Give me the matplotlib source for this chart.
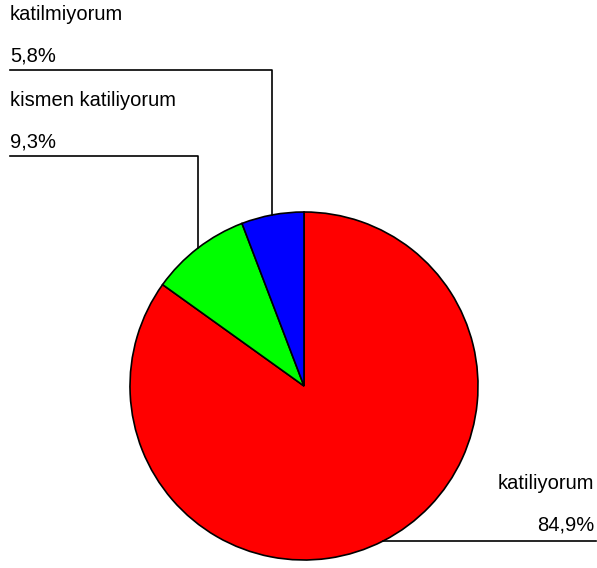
import numpy as np
import matplotlib.pyplot as plt

plt.rcParams['font.family'] = ['Liberation Sans', 'DejaVu Sans']

labels = ['katiliyorum', 'kismen katiliyorum', 'katilmiyorum']
values = [84.9, 9.3, 5.8]
pct_labels = ['84,9%', '9,3%', '5,8%']
colors = ['#ff0000', '#00ff00', '#0000ff']

W, H = 597, 568
fig = plt.figure(figsize=(W / 100, H / 100), dpi=100)
ax = fig.add_axes([0, 0, 1, 1])

cx, cy, r = 304, H - 386, 174
wedges, _ = ax.pie(values, colors=colors, startangle=90, counterclock=False,
                   center=(cx, cy), radius=r,
                   wedgeprops=dict(edgecolor='black', linewidth=1.2))
ax.set_xlim(0, W)
ax.set_ylim(0, H)
ax.set_aspect('equal')
ax.axis('off')

fs = 14.5
# pixel y of the horizontal leader line for the left-hand labels
line_y = {'kismen katiliyorum': 156, 'katilmiyorum': 70}
for w, lab, pct in zip(wedges, labels, pct_labels):
    mid = np.deg2rad((w.theta1 + w.theta2) / 2)
    px = cx + r * np.cos(mid)
    py = cy + r * np.sin(mid)
    if lab in line_y:
        ly = H - line_y[lab]
        ax.plot([px, px, 10], [py, ly, ly], color='black', lw=1.2)
        ax.text(10, ly + 8.5, pct, fontsize=fs, ha='left', va='baseline')
        ax.text(10, ly + 50, lab, fontsize=fs, ha='left', va='baseline')
    else:
        ax.plot([px, 596], [py, py], color='black', lw=1.2)
        ax.text(594, py + 10.5, pct, fontsize=fs, ha='right', va='baseline')
        ax.text(594, py + 52, lab, fontsize=fs, ha='right', va='baseline')

fig.savefig('out.png', dpi=100)
